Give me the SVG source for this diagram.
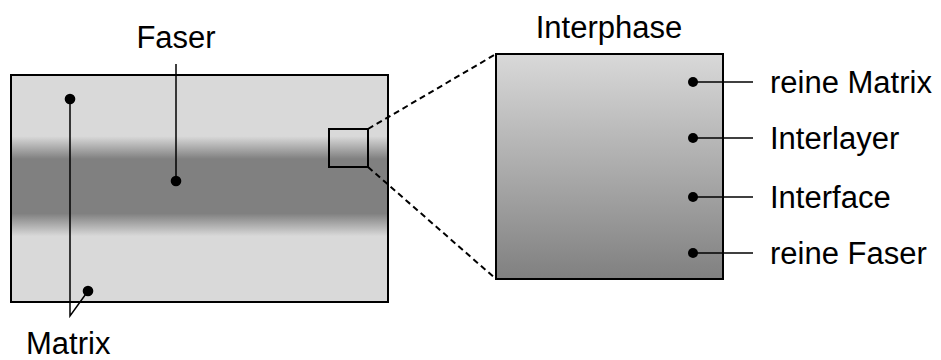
<svg xmlns="http://www.w3.org/2000/svg" width="941" height="360" viewBox="0 0 941 360">
  <style>
    .frame { stroke: #000; stroke-width: 2; }
    .lead { stroke: #000; stroke-width: 1.5; fill: none; }
    .zoom { stroke: #000; stroke-width: 2; stroke-dasharray: 6 4; fill: none; }
    .dot { fill: #000; }
    text { font-family: "Liberation Sans", Arial, sans-serif; font-size: 31px; fill: #000; }
  </style>
  <defs>
    <!-- fibre band across the composite -->
    <linearGradient id="band" x1="0" y1="0" x2="0" y2="1">
      <stop offset="0" stop-color="#d9d9d9"/>
      <stop offset="0.27" stop-color="#d9d9d9"/>
      <stop offset="0.37" stop-color="#808080"/>
      <stop offset="0.61" stop-color="#808080"/>
      <stop offset="0.71" stop-color="#d9d9d9"/>
      <stop offset="1" stop-color="#d9d9d9"/>
    </linearGradient>
    <!-- interphase transition matrix -> fibre -->
    <linearGradient id="phase" x1="0" y1="0" x2="0" y2="1">
      <stop offset="0" stop-color="#d9d9d9"/>
      <stop offset="1" stop-color="#808080"/>
    </linearGradient>
  </defs>

  <g id="composite">
    <rect class="frame" x="11" y="75" width="377" height="227" fill="url(#band)"/>
    <rect class="frame" x="329" y="129" width="39" height="38" fill="none"/>
  </g>

  <g id="interphase">
    <rect class="frame" x="496" y="54" width="227" height="225" fill="url(#phase)"/>
    <text x="609" y="38" text-anchor="middle">Interphase</text>
  </g>

  <g id="connectors">
    <line class="zoom" x1="368" y1="129" x2="496" y2="54"/>
    <line class="zoom" x1="368" y1="167" x2="496" y2="279"/>
    <!-- Faser -->
    <line class="lead" x1="176" y1="64" x2="176" y2="181"/>
    <!-- Matrix -->
    <polyline class="lead" points="70,99 70,316 88,291"/>
    <!-- interphase layers -->
    <line class="lead" x1="693" y1="82" x2="753" y2="82"/>
    <line class="lead" x1="693" y1="138" x2="753" y2="138"/>
    <line class="lead" x1="693" y1="197" x2="753" y2="197"/>
    <line class="lead" x1="693" y1="253" x2="753" y2="253"/>
  </g>

  <g id="label-faser">
    <circle class="dot" cx="176" cy="181" r="5.3"/>
    <text x="176" y="48" text-anchor="middle">Faser</text>
  </g>

  <g id="label-matrix">
    <circle class="dot" cx="70" cy="99" r="5.3"/>
    <circle class="dot" cx="88" cy="291" r="5.3"/>
    <text x="26" y="354">Matrix</text>
  </g>

  <g id="layer-reine-matrix">
    <circle class="dot" cx="693" cy="82" r="5"/>
    <text x="770" y="93">reine Matrix</text>
  </g>
  <g id="layer-interlayer">
    <circle class="dot" cx="693" cy="138" r="5"/>
    <text x="770" y="149">Interlayer</text>
  </g>
  <g id="layer-interface">
    <circle class="dot" cx="693" cy="197" r="5"/>
    <text x="770" y="208">Interface</text>
  </g>
  <g id="layer-reine-faser">
    <circle class="dot" cx="693" cy="253" r="5"/>
    <text x="770" y="264">reine Faser</text>
  </g>
</svg>
